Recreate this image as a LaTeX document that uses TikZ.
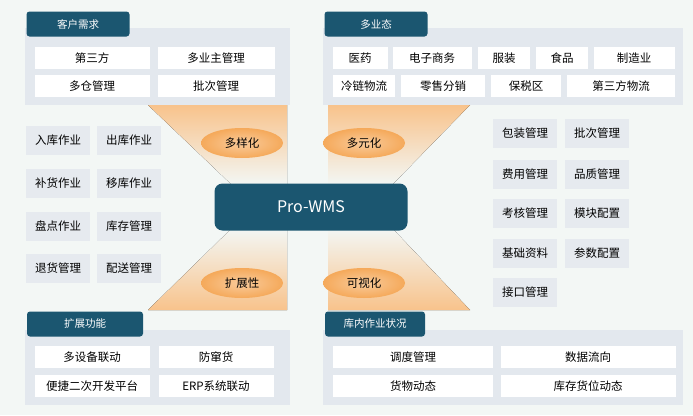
\documentclass[tikz,border=0pt]{standalone}
\usepackage{fontspec}
\setmainfont{Noto Sans CJK SC}
\usetikzlibrary{shapes.geometric,fadings}
\definecolor{bgc}{HTML}{F3F7F5}
\definecolor{panelc}{HTML}{E3E8EE}
\definecolor{tealc}{HTML}{1B5670}
\definecolor{itemc}{HTML}{E6EAEF}
\definecolor{orangec}{HTML}{F5A95A}
\tikzset{
  panel/.style={fill=panelc},
  tab/.style={fill=tealc,rounded corners=3pt,text=white,font=\fontsize{10.5}{12}\selectfont},
  wbox/.style={fill=white,font=\fontsize{11.5}{13}\selectfont},
  gbox/.style={fill=itemc,font=\fontsize{11.5}{13}\selectfont},
  pill/.style={ellipse,minimum width=82pt,minimum height=30pt,inner color=orangec!60!white,outer color=orangec,font=\fontsize{11.5}{13}\selectfont},
  funnel/.style={top color=orangec!70!white,bottom color=bgc,draw=none},
  funnelup/.style={bottom color=orangec!70!white,top color=bgc,draw=none}
}
\begin{document}
\begin{tikzpicture}[x=1pt,y=-1pt]
\fill[bgc] (0,0) rectangle (693,415);
\useasboundingbox (0,0) rectangle (693,415);

% funnels
\fill[funnel] (148,105) -- (287,105) -- (287,185) -- (232,185) -- cycle;
\fill[funnel] (328,105) -- (470,105) -- (392,185) -- (328,185) -- cycle;
\fill[funnelup] (232,228) -- (287,228) -- (287,310) -- (148,310) -- cycle;
\fill[funnelup] (328,228) -- (392,228) -- (470,310) -- (328,310) -- cycle;

% panels
\fill[panel] (25,28) rectangle (290,105);
\fill[panel] (323,28) rectangle (683,105);
\fill[panel] (25,330) rectangle (290,405);
\fill[panel] (323,330) rectangle (683,405);

% tabs
\node[tab,minimum width=103pt,minimum height=25pt] (kehu) at (78,24) {客户需求};
\node[tab,minimum width=103pt,minimum height=25pt] (yetai) at (376,24) {多业态};
\node[tab,minimum width=116pt,minimum height=25pt] (kuozhan) at (85,324) {扩展功能};
\node[tab,minimum width=100pt,minimum height=25pt] (kunei) at (375,324) {库内作业状况};

% top-left items
\foreach \t/\x/\y/\w in {第三方/92/58/115, 多业主管理/216/58/117, 多仓管理/92/86/115, 批次管理/216/86/117}
  \node[wbox,minimum width=\w pt,minimum height=22pt] at (\x,\y) {\t};

% top-right items
\foreach \t/\x/\w in {医药/360/55, 电子商务/432/79, 服装/504/52, 食品/562/52, 制造业/634/81}
  \node[wbox,minimum width=\w pt,minimum height=22pt] at (\x,58) {\t};
\foreach \t/\x/\w in {冷链物流/364/62, 零售分销/443/84, 保税区/526/70, 第三方物流/621/108}
  \node[wbox,minimum width=\w pt,minimum height=22pt] at (\x,86) {\t};

% bottom items
\foreach \t/\x/\y in {多设备联动/92/357, 防窜货/216/357, 便捷二次开发平台/92/386, ERP系统联动/216/386}
  \node[wbox,minimum width=115pt,minimum height=22pt] at (\x,\y) {\t};
\foreach \t/\x/\y/\w in {调度管理/413/357/160, 数据流向/588/357/175, 货物动态/413/386/160, 库存货位动态/588/386/175}
  \node[wbox,minimum width=\w pt,minimum height=22pt] at (\x,\y) {\t};

% left items
\foreach \a/\b/\y in {入库作业/出库作业/140, 补货作业/移库作业/183, 盘点作业/库存管理/226, 退货管理/配送管理/268} {
  \node[gbox,minimum width=64pt,minimum height=29pt,inner sep=1pt] at (58,\y) {\a};
  \node[gbox,minimum width=64pt,minimum height=29pt,inner sep=1pt] at (129,\y) {\b};
}

% right items
\foreach \a/\b/\y in {包装管理/批次管理/133, 费用管理/品质管理/174, 考核管理/模块配置/213, 基础资料/参数配置/253} {
  \node[gbox,minimum width=64pt,minimum height=29pt,inner sep=1pt] at (525,\y) {\a};
  \node[gbox,minimum width=64pt,minimum height=29pt,inner sep=1pt] at (597,\y) {\b};
}
\node[gbox,minimum width=64pt,minimum height=29pt,inner sep=1pt] (jiekou) at (525,292) {接口管理};

% pills
\node[pill] (duoyang) at (242,143) {多样化};
\node[pill] (duoyuan) at (364,143) {多元化};
\node[pill] (kuozhanx) at (242,283) {扩展性};
\node[pill] (keshi) at (364,283) {可视化};

% center
\node[fill=tealc,rounded corners=8pt,minimum width=193pt,minimum height=47pt,text=white,font=\fontsize{16}{18}\selectfont] (wms) at (311,207) {Pro-WMS};
\end{tikzpicture}
\end{document}
